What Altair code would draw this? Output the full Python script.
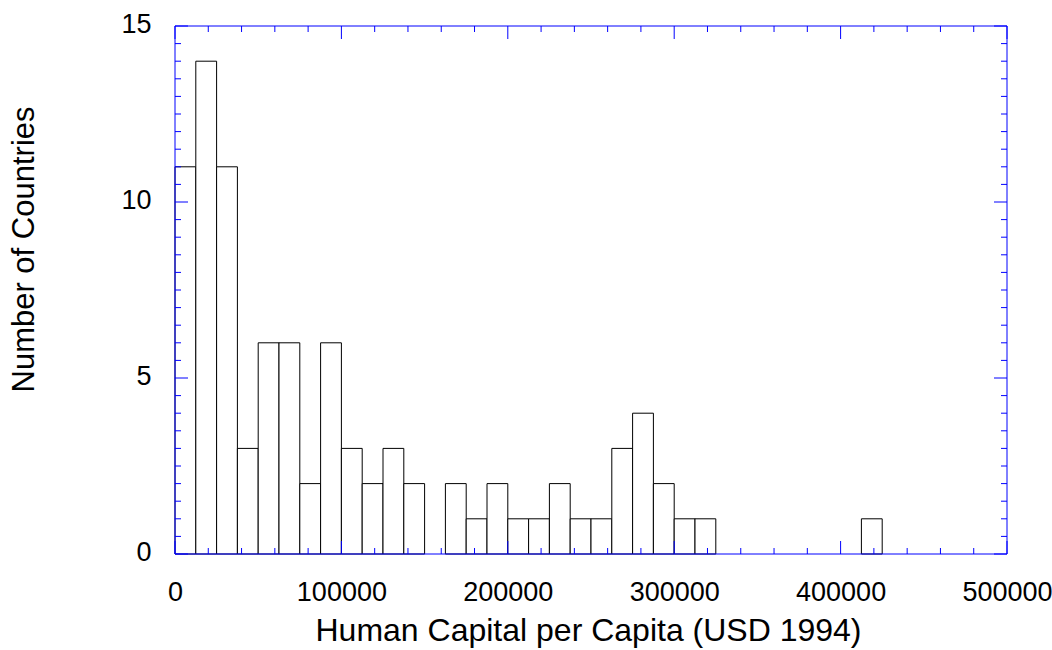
import altair as alt
import pandas as pd

# Histogram of human capital per capita, bins of 12,500 USD
BIN_WIDTH = 12500
bin_start = [0, 12500, 25000, 37500, 50000, 62500, 75000, 87500,
             100000, 112500, 125000, 137500, 150000, 162500, 175000, 187500,
             200000, 212500, 225000, 237500, 250000, 262500, 275000, 287500,
             300000, 312500, 412500]
counts = [11, 14, 11, 3, 6, 6, 2, 6,
          3, 2, 3, 2, 0, 2, 1, 2,
          1, 1, 2, 1, 1, 3, 4, 2,
          1, 1, 1]

# Axis tick positions
x_major = [0, 100000, 200000, 300000, 400000, 500000]
x_minor = [v for v in range(20000, 500000, 20000) if v % 100000 != 0]
y_major = [0, 5, 10, 15]
y_minor = [v / 2 for v in range(1, 30) if v % 10 != 0]

W, H = 832, 528
BLUE = "#0000ff"
FONT = "Liberation Sans"
MAJOR, MINOR = 13, 6

hist = pd.DataFrame({
    "start": bin_start,
    "end": [s + BIN_WIDTH for s in bin_start],
    "count": counts,
})

xscale = alt.Scale(domain=[0, 500000], nice=False, zero=False)
yscale = alt.Scale(domain=[0, 15], nice=False)

xaxis = alt.Axis(
    values=x_major, format="d", grid=False, domain=False, ticks=False, tickSize=0,
    labelFont=FONT, labelFontSize=27, labelColor="black", labelPadding=25,
    labelFlush=False, labelOverlap=False,
    title="Human Capital per Capita (USD 1994)", titleFont=FONT, titleFontSize=32,
    titleFontWeight="normal", titleColor="black", titleAlign="center",
    titleBaseline="alphabetic", titleX=413, titleY=86,
)
yaxis = alt.Axis(
    values=y_major, format="d", grid=False, domain=False, ticks=False, tickSize=0,
    labelFont=FONT, labelFontSize=27, labelColor="black", labelPadding=24,
    labelFlush=False, labelOverlap=False, labelOffset=-2,
    title="Number of Countries", titleFont=FONT, titleFontSize=31,
    titleFontWeight="normal", titleColor="black", titleAlign="center",
    titleBaseline="alphabetic", titleAngle=270, titleX=-142, titleY=223,
)


def X(field):
    return alt.X(field, type="quantitative", scale=xscale, axis=xaxis)


def Y(field):
    return alt.Y(field, type="quantitative", scale=yscale, axis=yaxis)


bars = alt.Chart(hist).transform_filter("datum.count > 0").mark_bar(
    fill="white", stroke="black", strokeWidth=1
).encode(
    x=X("start"),
    x2="end",
    y=Y("count"),
    y2=alt.datum(0),
)

xmaj = pd.DataFrame({"start": x_major})
xmin = pd.DataFrame({"start": x_minor})
ymaj = pd.DataFrame({"count": y_major})
ymin = pd.DataFrame({"count": y_minor})


def xticks(df, length):
    bottom = alt.Chart(df).mark_rule(color=BLUE, strokeWidth=1).encode(
        x=X("start"), y=alt.value(H), y2=alt.value(H - length))
    top = alt.Chart(df).mark_rule(color=BLUE, strokeWidth=1).encode(
        x=X("start"), y=alt.value(0), y2=alt.value(length))
    return [bottom, top]


def yticks(df, length):
    left = alt.Chart(df).mark_rule(color=BLUE, strokeWidth=1).encode(
        y=Y("count"), x=alt.value(0), x2=alt.value(length))
    right = alt.Chart(df).mark_rule(color=BLUE, strokeWidth=1).encode(
        y=Y("count"), x=alt.value(W), x2=alt.value(W - length))
    return [left, right]


frame_df = pd.DataFrame({"side": ["frame"]})
frame = [
    alt.Chart(frame_df).mark_rule(color=BLUE, strokeWidth=1).encode(
        x=alt.value(0), x2=alt.value(W), y=alt.value(0)),
    alt.Chart(frame_df).mark_rule(color=BLUE, strokeWidth=1).encode(
        x=alt.value(0), x2=alt.value(W), y=alt.value(H)),
    alt.Chart(frame_df).mark_rule(color=BLUE, strokeWidth=1).encode(
        y=alt.value(0), y2=alt.value(H), x=alt.value(0)),
    alt.Chart(frame_df).mark_rule(color=BLUE, strokeWidth=1).encode(
        y=alt.value(0), y2=alt.value(H), x=alt.value(W)),
]

layers = [bars] + xticks(xmaj, MAJOR) + xticks(xmin, MINOR) \
    + yticks(ymaj, MAJOR) + yticks(ymin, MINOR) + frame

chart = alt.layer(*layers).properties(
    width=W, height=H,
    autosize=alt.AutoSizeParams(type="none"),
    padding={"left": 175, "top": 26, "right": 45, "bottom": 96},
    background="white",
).configure_view(strokeWidth=0)

chart.save("out.html", embed_options={"renderer": "svg", "actions": False})
